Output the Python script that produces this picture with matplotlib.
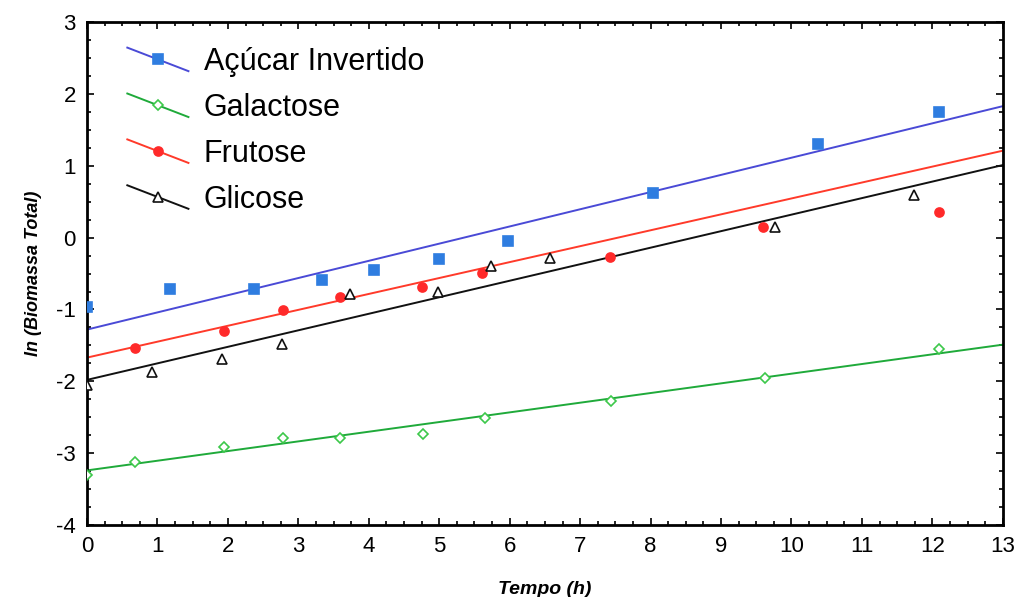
import numpy as np
import matplotlib.pyplot as plt
from matplotlib.legend_handler import HandlerLine2D
from matplotlib.ticker import MultipleLocator

plt.rcParams['font.family'] = ['Liberation Sans', 'DejaVu Sans']
plt.rcParams['axes.unicode_minus'] = False

# Açúcar invertido
t_ai = [0.0, 1.18, 2.37, 3.33, 4.08, 5.0, 5.98, 8.03, 10.37, 12.1]
y_ai = [-0.97, -0.71, -0.71, -0.59, -0.45, -0.30, -0.05, 0.62, 1.30, 1.75]
# Galactose
t_ga = [0.0, 0.68, 1.94, 2.78, 3.59, 4.77, 5.65, 7.44, 9.62, 12.1]
y_ga = [-3.30, -3.13, -2.91, -2.79, -2.79, -2.74, -2.51, -2.27, -1.95, -1.55]
# Frutose
t_fr = [0.68, 1.94, 2.78, 3.59, 4.75, 5.6, 7.42, 9.59, 12.1]
y_fr = [-1.53, -1.30, -1.01, -0.82, -0.69, -0.49, -0.27, 0.15, 0.36]
# Glicose
t_gl = [0.0, 0.92, 1.91, 2.77, 3.73, 4.98, 5.73, 6.57, 9.76, 11.74]
y_gl = [-2.05, -1.87, -1.69, -1.48, -0.78, -0.75, -0.39, -0.28, 0.15, 0.59]

# fitted lines, value at t=0 and t=13
fit_t = [0, 13]
fit_ai = [-1.28, 1.83]
fit_ga = [-3.24, -1.49]
fit_fr = [-1.67, 1.21]
fit_gl = [-1.98, 1.01]


class SlantHandler(HandlerLine2D):
    # legend line drawn going down to the right, as in the original
    def create_artists(self, legend, orig_handle, xdescent, ydescent,
                       width, height, fontsize, trans):
        arts = super().create_artists(legend, orig_handle, xdescent, ydescent,
                                      width, height, fontsize, trans)
        line = arts[0]
        yd = np.asarray(line.get_ydata(), dtype=float)
        mid = yd[0]
        line.set_ydata(np.linspace(mid + height * 0.55, mid - height * 0.55, len(yd)))
        return arts


fig = plt.figure(figsize=(10.14, 5.97), dpi=100)
ax = fig.add_axes([0.0858, 0.1206, 0.9032, 0.8424])

series = [
    ('Açúcar Invertido', t_ai, y_ai, fit_ai, '#4a4ad6', 's', '#2f7de0', '#2f7de0'),
    ('Galactose', t_ga, y_ga, fit_ga, '#1faa3a', 'D', 'white', '#3cc84a'),
    ('Frutose', t_fr, y_fr, fit_fr, '#ff3a2a', 'o', '#ff2a2a', '#ff2a2a'),
    ('Glicose', t_gl, y_gl, fit_gl, '#111111', '^', 'white', '#111111'),
]

handles = []
for name, t, y, fit, lc, mk, mfc, mec in series:
    ms = 5 if mk == 'D' else 6.5
    ax.plot(fit_t, fit, color=lc, lw=1.4, zorder=2)
    ax.plot(t, y, ls='none', marker=mk, ms=ms,
            mfc=mfc, mec=mec, mew=1.2, zorder=3)
    h, = ax.plot([], [], color=lc, lw=1.4, marker=mk,
                 ms=ms, mfc=mfc, mec=mec, mew=1.2)
    handles.append(h)

ax.legend(handles, [s[0] for s in series], loc='upper left',
          bbox_to_anchor=(0.014, 1.005), frameon=False, fontsize=22,
          handlelength=2.0, handletextpad=0.5, labelspacing=0.52,
          numpoints=1, handler_map={h: SlantHandler() for h in handles})

ax.set_xlim(0, 13)
ax.set_ylim(-4, 3)
ax.xaxis.set_major_locator(MultipleLocator(1))
ax.xaxis.set_minor_locator(MultipleLocator(0.25))
ax.yaxis.set_major_locator(MultipleLocator(1))
ax.yaxis.set_minor_locator(MultipleLocator(0.25))
ax.tick_params(which='both', direction='in', top=True, right=True,
               labelsize=16, width=1.2)
ax.tick_params(which='major', length=5, pad=8)
ax.tick_params(which='minor', length=3)
for sp in ax.spines.values():
    sp.set_linewidth(2)

ax.set_xlabel('Tempo (h)', fontsize=14, style='italic', weight='bold', labelpad=17)
ax.set_ylabel('ln (Biomassa Total)', fontsize=13, style='italic', weight='bold',
              labelpad=10)

fig.savefig('out.png', dpi=100)
